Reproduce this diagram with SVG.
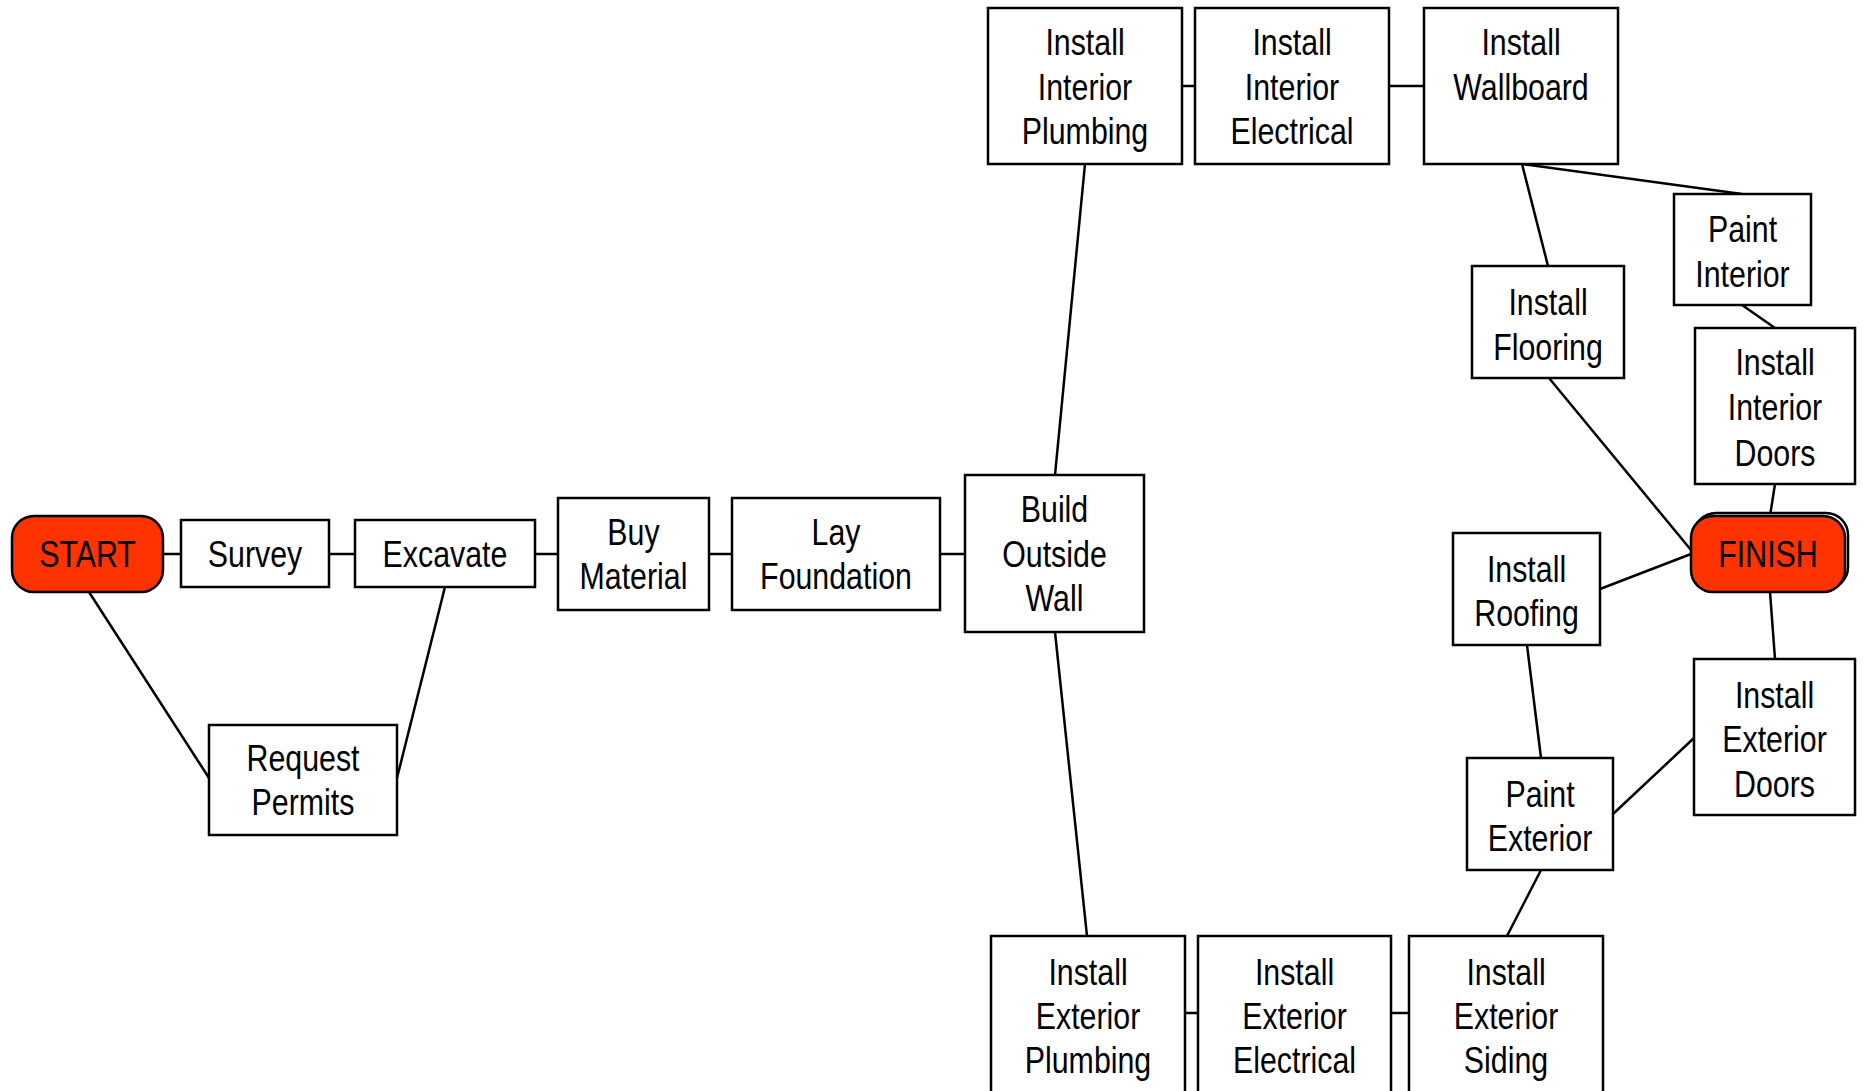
<svg xmlns="http://www.w3.org/2000/svg" width="1863" height="1091" viewBox="0 0 1863 1091">
  <style>
    .box { fill: #ffffff; stroke: #000000; stroke-width: 2.5; }
    .term { fill: #ff3300; stroke: #000000; stroke-width: 2.5; }
    .lbl { font-family: "Liberation Sans", Arial, sans-serif; font-size: 37px; fill: #000000; text-anchor: middle; }
    .edge { stroke: #000000; stroke-width: 2.5; fill: none; }
  </style>
  <rect width="1863" height="1091" fill="#ffffff"/>

  <!-- connectors -->
  <g id="connectors">
    <line class="edge" x1="163" y1="554" x2="181" y2="554"/>
    <line class="edge" x1="329" y1="554" x2="355" y2="554"/>
    <line class="edge" x1="535" y1="554" x2="558" y2="554"/>
    <line class="edge" x1="709" y1="554" x2="732" y2="554"/>
    <line class="edge" x1="940" y1="554" x2="965" y2="554"/>
    <line class="edge" x1="89" y1="592" x2="209" y2="778"/>
    <line class="edge" x1="445" y1="587" x2="397" y2="778"/>
    <line class="edge" x1="1055" y1="475" x2="1085" y2="164"/>
    <line class="edge" x1="1182" y1="86" x2="1195" y2="86"/>
    <line class="edge" x1="1389" y1="86" x2="1424" y2="86"/>
    <line class="edge" x1="1522" y1="164" x2="1742" y2="194"/>
    <line class="edge" x1="1522" y1="164" x2="1548" y2="266"/>
    <line class="edge" x1="1742" y1="305" x2="1775" y2="328"/>
    <line class="edge" x1="1775" y1="484" x2="1770" y2="516"/>
    <line class="edge" x1="1549" y1="378" x2="1691" y2="550"/>
    <line class="edge" x1="1600" y1="589" x2="1691" y2="554"/>
    <line class="edge" x1="1770" y1="592" x2="1775" y2="659"/>
    <line class="edge" x1="1694" y1="738" x2="1613" y2="814"/>
    <line class="edge" x1="1527" y1="645" x2="1541" y2="758"/>
    <line class="edge" x1="1541" y1="870" x2="1507" y2="936"/>
    <line class="edge" x1="1055" y1="632" x2="1087" y2="936"/>
    <line class="edge" x1="1185" y1="1013" x2="1198" y2="1013"/>
    <line class="edge" x1="1391" y1="1013" x2="1409" y2="1013"/>
  </g>

  <!-- task nodes; labels are set in a condensed face by squeezing horizontally -->
  <g id="start">
    <rect class="term" x="12" y="516" width="151" height="76" rx="22"/>
    <g transform="translate(87.5 0) scale(0.82 1)">
      <text class="lbl" x="0" y="567">START</text>
    </g>
  </g>
  <g id="survey">
    <rect class="box" x="181" y="520" width="148" height="67"/>
    <g transform="translate(255 0) scale(0.82 1)">
      <text class="lbl" x="0" y="567">Survey</text>
    </g>
  </g>
  <g id="excavate">
    <rect class="box" x="355" y="520" width="180" height="67"/>
    <g transform="translate(445 0) scale(0.82 1)">
      <text class="lbl" x="0" y="567">Excavate</text>
    </g>
  </g>
  <g id="request-permits">
    <rect class="box" x="209" y="725" width="188" height="110"/>
    <g transform="translate(303 0) scale(0.82 1)">
      <text class="lbl" x="0" y="771">Request</text>
      <text class="lbl" x="0" y="815">Permits</text>
    </g>
  </g>
  <g id="buy-material">
    <rect class="box" x="558" y="498" width="151" height="112"/>
    <g transform="translate(633.5 0) scale(0.82 1)">
      <text class="lbl" x="0" y="545">Buy</text>
      <text class="lbl" x="0" y="589">Material</text>
    </g>
  </g>
  <g id="lay-foundation">
    <rect class="box" x="732" y="498" width="208" height="112"/>
    <g transform="translate(836 0) scale(0.82 1)">
      <text class="lbl" x="0" y="545">Lay</text>
      <text class="lbl" x="0" y="589">Foundation</text>
    </g>
  </g>
  <g id="build-outside-wall">
    <rect class="box" x="965" y="475" width="179" height="157"/>
    <g transform="translate(1054.5 0) scale(0.82 1)">
      <text class="lbl" x="0" y="522">Build</text>
      <text class="lbl" x="0" y="567">Outside</text>
      <text class="lbl" x="0" y="611">Wall</text>
    </g>
  </g>
  <g id="install-interior-plumbing">
    <rect class="box" x="988" y="8" width="194" height="156"/>
    <g transform="translate(1085 0) scale(0.82 1)">
      <text class="lbl" x="0" y="55">Install</text>
      <text class="lbl" x="0" y="100">Interior</text>
      <text class="lbl" x="0" y="144">Plumbing</text>
    </g>
  </g>
  <g id="install-interior-electrical">
    <rect class="box" x="1195" y="8" width="194" height="156"/>
    <g transform="translate(1292 0) scale(0.82 1)">
      <text class="lbl" x="0" y="55">Install</text>
      <text class="lbl" x="0" y="100">Interior</text>
      <text class="lbl" x="0" y="144">Electrical</text>
    </g>
  </g>
  <g id="install-wallboard">
    <rect class="box" x="1424" y="8" width="194" height="156"/>
    <g transform="translate(1521 0) scale(0.82 1)">
      <text class="lbl" x="0" y="55">Install</text>
      <text class="lbl" x="0" y="100">Wallboard</text>
    </g>
  </g>
  <g id="paint-interior">
    <rect class="box" x="1674" y="194" width="137" height="111"/>
    <g transform="translate(1742.5 0) scale(0.82 1)">
      <text class="lbl" x="0" y="242">Paint</text>
      <text class="lbl" x="0" y="287">Interior</text>
    </g>
  </g>
  <g id="install-flooring">
    <rect class="box" x="1472" y="266" width="152" height="112"/>
    <g transform="translate(1548 0) scale(0.82 1)">
      <text class="lbl" x="0" y="315">Install</text>
      <text class="lbl" x="0" y="360">Flooring</text>
    </g>
  </g>
  <g id="install-interior-doors">
    <rect class="box" x="1695" y="328" width="160" height="156"/>
    <g transform="translate(1775 0) scale(0.82 1)">
      <text class="lbl" x="0" y="375">Install</text>
      <text class="lbl" x="0" y="420">Interior</text>
      <text class="lbl" x="0" y="466">Doors</text>
    </g>
  </g>
  <g id="finish">
    <rect class="box" x="1694" y="513" width="154" height="76" rx="22"/>
    <rect class="term" x="1691" y="516" width="154" height="76" rx="22"/>
    <g transform="translate(1768 0) scale(0.82 1)">
      <text class="lbl" x="0" y="567">FINISH</text>
    </g>
  </g>
  <g id="install-roofing">
    <rect class="box" x="1453" y="533" width="147" height="112"/>
    <g transform="translate(1526.5 0) scale(0.82 1)">
      <text class="lbl" x="0" y="582">Install</text>
      <text class="lbl" x="0" y="626">Roofing</text>
    </g>
  </g>
  <g id="install-exterior-doors">
    <rect class="box" x="1694" y="659" width="161" height="156"/>
    <g transform="translate(1774.5 0) scale(0.82 1)">
      <text class="lbl" x="0" y="708">Install</text>
      <text class="lbl" x="0" y="752">Exterior</text>
      <text class="lbl" x="0" y="797">Doors</text>
    </g>
  </g>
  <g id="paint-exterior">
    <rect class="box" x="1467" y="758" width="146" height="112"/>
    <g transform="translate(1540 0) scale(0.82 1)">
      <text class="lbl" x="0" y="807">Paint</text>
      <text class="lbl" x="0" y="851">Exterior</text>
    </g>
  </g>
  <g id="install-exterior-plumbing">
    <rect class="box" x="991" y="936" width="194" height="165"/>
    <g transform="translate(1088 0) scale(0.82 1)">
      <text class="lbl" x="0" y="985">Install</text>
      <text class="lbl" x="0" y="1029">Exterior</text>
      <text class="lbl" x="0" y="1073">Plumbing</text>
    </g>
  </g>
  <g id="install-exterior-electrical">
    <rect class="box" x="1198" y="936" width="193" height="165"/>
    <g transform="translate(1294.5 0) scale(0.82 1)">
      <text class="lbl" x="0" y="985">Install</text>
      <text class="lbl" x="0" y="1029">Exterior</text>
      <text class="lbl" x="0" y="1073">Electrical</text>
    </g>
  </g>
  <g id="install-exterior-siding">
    <rect class="box" x="1409" y="936" width="194" height="165"/>
    <g transform="translate(1506 0) scale(0.82 1)">
      <text class="lbl" x="0" y="985">Install</text>
      <text class="lbl" x="0" y="1029">Exterior</text>
      <text class="lbl" x="0" y="1073">Siding</text>
    </g>
  </g>
</svg>
